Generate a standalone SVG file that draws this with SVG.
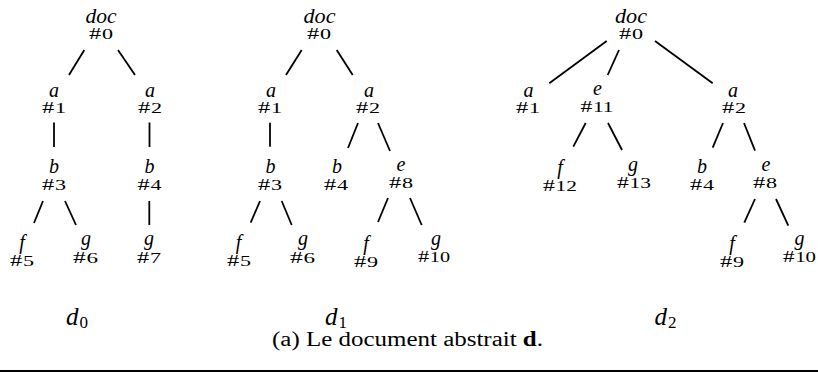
<svg xmlns="http://www.w3.org/2000/svg" width="818" height="372" viewBox="0 0 818 372">
<style>
.lbl{font-family:"Liberation Serif",serif;font-style:italic;font-size:20px;text-anchor:middle;fill:#000}
.num{font-family:"Liberation Serif",serif;font-size:16px;text-anchor:middle;fill:#000}
.dg{font-size:14.5px}
.cap{font-family:"Liberation Serif",serif;font-style:italic;font-size:25px;text-anchor:middle;fill:#000}
.sub{font-style:normal;font-size:17px}
.title{font-family:"Liberation Serif",serif;font-size:20px;fill:#000}
#connectors line{stroke:#000;stroke-width:1.8;stroke-linecap:butt}
</style>
<rect width="818" height="372" fill="#fff"/>
<g id="connectors">
<line x1="84.3" y1="50" x2="69" y2="75"/>
<line x1="118" y1="50" x2="135" y2="75"/>
<line x1="54" y1="122.5" x2="54" y2="147"/>
<line x1="149.5" y1="122.5" x2="149.5" y2="147"/>
<line x1="43" y1="201" x2="34" y2="223"/>
<line x1="65" y1="201" x2="76" y2="225"/>
<line x1="149.3" y1="201" x2="149.3" y2="225"/>
<line x1="301.7" y1="50" x2="286" y2="75"/>
<line x1="336.7" y1="50" x2="352.7" y2="75"/>
<line x1="270" y1="122.7" x2="270" y2="146.7"/>
<line x1="358" y1="123" x2="348" y2="148"/>
<line x1="378" y1="123" x2="390" y2="151"/>
<line x1="260" y1="201" x2="250.7" y2="222.7"/>
<line x1="281.7" y1="201" x2="291.7" y2="225"/>
<line x1="388" y1="198" x2="378" y2="222"/>
<line x1="410" y1="198" x2="421.7" y2="225"/>
<line x1="606.7" y1="41" x2="549.3" y2="83.3"/>
<line x1="619" y1="50" x2="607.7" y2="75"/>
<line x1="655" y1="41" x2="712.7" y2="83.3"/>
<line x1="585.7" y1="123" x2="573.3" y2="146.7"/>
<line x1="608" y1="123" x2="622" y2="150"/>
<line x1="723" y1="123" x2="712.7" y2="147.7"/>
<line x1="744" y1="123" x2="755" y2="150.7"/>
<line x1="755" y1="199" x2="744.3" y2="222.7"/>
<line x1="776" y1="199" x2="788.3" y2="225.7"/>
</g>
<!-- d0 -->
<g id="d0-n0"><text class="lbl" x="101" y="23" textLength="31" lengthAdjust="spacingAndGlyphs">doc</text><text class="num" x="101" y="39" textLength="24" lengthAdjust="spacingAndGlyphs">#<tspan class="dg" dx="0.5">0</tspan></text></g>
<g id="d0-n1"><text class="lbl" x="54" y="96.5">a</text><text class="num" x="54" y="112.5" textLength="24" lengthAdjust="spacingAndGlyphs">#<tspan class="dg" dx="0.5">1</tspan></text></g>
<g id="d0-n2"><text class="lbl" x="150" y="96.5">a</text><text class="num" x="150" y="112.5" textLength="24" lengthAdjust="spacingAndGlyphs">#<tspan class="dg" dx="0.5">2</tspan></text></g>
<g id="d0-n3"><text class="lbl" x="54" y="173">b</text><text class="num" x="54" y="190" textLength="24" lengthAdjust="spacingAndGlyphs">#<tspan class="dg" dx="0.5">3</tspan></text></g>
<g id="d0-n4"><text class="lbl" x="149.5" y="173">b</text><text class="num" x="149.5" y="190" textLength="24" lengthAdjust="spacingAndGlyphs">#<tspan class="dg" dx="0.5">4</tspan></text></g>
<g id="d0-n5"><text class="lbl" x="22" y="249">f</text><text class="num" x="22" y="266" textLength="24" lengthAdjust="spacingAndGlyphs">#<tspan class="dg" dx="0.5">5</tspan></text></g>
<g id="d0-n6"><text class="lbl" x="86" y="245">g</text><text class="num" x="85.5" y="262.5" textLength="25" lengthAdjust="spacingAndGlyphs">#<tspan class="dg" dx="0.5">6</tspan></text></g>
<g id="d0-n7"><text class="lbl" x="149" y="245">g</text><text class="num" x="149" y="263" textLength="24" lengthAdjust="spacingAndGlyphs">#<tspan class="dg" dx="0.5">7</tspan></text></g>
<!-- d1 -->
<g id="d1-n0"><text class="lbl" x="319.5" y="23" textLength="32" lengthAdjust="spacingAndGlyphs">doc</text><text class="num" x="319" y="39" textLength="24" lengthAdjust="spacingAndGlyphs">#<tspan class="dg" dx="0.5">0</tspan></text></g>
<g id="d1-n1"><text class="lbl" x="271" y="96.5">a</text><text class="num" x="270" y="112.5" textLength="24" lengthAdjust="spacingAndGlyphs">#<tspan class="dg" dx="0.5">1</tspan></text></g>
<g id="d1-n2"><text class="lbl" x="369" y="96.5">a</text><text class="num" x="368" y="112.5" textLength="24" lengthAdjust="spacingAndGlyphs">#<tspan class="dg" dx="0.5">2</tspan></text></g>
<g id="d1-n3"><text class="lbl" x="270.5" y="173">b</text><text class="num" x="270" y="190" textLength="24" lengthAdjust="spacingAndGlyphs">#<tspan class="dg" dx="0.5">3</tspan></text></g>
<g id="d1-n4"><text class="lbl" x="337" y="173">b</text><text class="num" x="336" y="190" textLength="24" lengthAdjust="spacingAndGlyphs">#<tspan class="dg" dx="0.5">4</tspan></text></g>
<g id="d1-n8"><text class="lbl" x="401" y="171">e</text><text class="num" x="401" y="188" textLength="24" lengthAdjust="spacingAndGlyphs">#<tspan class="dg" dx="0.5">8</tspan></text></g>
<g id="d1-n5"><text class="lbl" x="238.5" y="249">f</text><text class="num" x="239" y="266" textLength="24" lengthAdjust="spacingAndGlyphs">#<tspan class="dg" dx="0.5">5</tspan></text></g>
<g id="d1-n6"><text class="lbl" x="303" y="245">g</text><text class="num" x="302.5" y="262.5" textLength="25" lengthAdjust="spacingAndGlyphs">#<tspan class="dg" dx="0.5">6</tspan></text></g>
<g id="d1-n9"><text class="lbl" x="366" y="250">f</text><text class="num" x="366" y="266.5" textLength="24" lengthAdjust="spacingAndGlyphs">#<tspan class="dg" dx="0.5">9</tspan></text></g>
<g id="d1-n10"><text class="lbl" x="436" y="245">g</text><text class="num" x="434" y="262" textLength="32" lengthAdjust="spacingAndGlyphs">#<tspan class="dg" dx="0.5">10</tspan></text></g>
<!-- d2 -->
<g id="d2-n0"><text class="lbl" x="631" y="23" textLength="32" lengthAdjust="spacingAndGlyphs">doc</text><text class="num" x="631" y="39" textLength="24" lengthAdjust="spacingAndGlyphs">#<tspan class="dg" dx="0.5">0</tspan></text></g>
<g id="d2-n1"><text class="lbl" x="528.5" y="96.5">a</text><text class="num" x="528" y="112.5" textLength="24" lengthAdjust="spacingAndGlyphs">#<tspan class="dg" dx="0.5">1</tspan></text></g>
<g id="d2-n11"><text class="lbl" x="597.5" y="95">e</text><text class="num" x="597" y="112" textLength="33" lengthAdjust="spacingAndGlyphs">#<tspan class="dg" dx="0.5">11</tspan></text></g>
<g id="d2-n2"><text class="lbl" x="733" y="96.5">a</text><text class="num" x="734" y="112.5" textLength="24" lengthAdjust="spacingAndGlyphs">#<tspan class="dg" dx="0.5">2</tspan></text></g>
<g id="d2-n12"><text class="lbl" x="560" y="174">f</text><text class="num" x="560" y="190.5" textLength="34" lengthAdjust="spacingAndGlyphs">#<tspan class="dg" dx="0.5">12</tspan></text></g>
<g id="d2-n13"><text class="lbl" x="633" y="170.5">g</text><text class="num" x="634" y="187.5" textLength="34" lengthAdjust="spacingAndGlyphs">#<tspan class="dg" dx="0.5">13</tspan></text></g>
<g id="d2-n4"><text class="lbl" x="702" y="173">b</text><text class="num" x="702" y="190" textLength="24" lengthAdjust="spacingAndGlyphs">#<tspan class="dg" dx="0.5">4</tspan></text></g>
<g id="d2-n8"><text class="lbl" x="766" y="171">e</text><text class="num" x="765" y="188" textLength="24" lengthAdjust="spacingAndGlyphs">#<tspan class="dg" dx="0.5">8</tspan></text></g>
<g id="d2-n9"><text class="lbl" x="732" y="250">f</text><text class="num" x="732" y="266.5" textLength="24" lengthAdjust="spacingAndGlyphs">#<tspan class="dg" dx="0.5">9</tspan></text></g>
<g id="d2-n10"><text class="lbl" x="799.5" y="245">g</text><text class="num" x="799.5" y="262" textLength="33" lengthAdjust="spacingAndGlyphs">#<tspan class="dg" dx="0.5">10</tspan></text></g>
<!-- captions -->
<g id="captions">
<text class="cap" x="77" y="325">d<tspan class="sub" dx="1" dy="2.5">0</tspan></text>
<text class="cap" x="336" y="325">d<tspan class="sub" dx="1" dy="2.5">1</tspan></text>
<text class="cap" x="665.5" y="325">d<tspan class="sub" dx="1" dy="2.5">2</tspan></text>
<text class="title" x="272" y="346" textLength="271" lengthAdjust="spacingAndGlyphs">(a) Le document abstrait <tspan font-weight="bold">d</tspan>.</text>
</g>
<line x1="0" y1="371" x2="818" y2="371" stroke="#000" stroke-width="2"/>
</svg>
